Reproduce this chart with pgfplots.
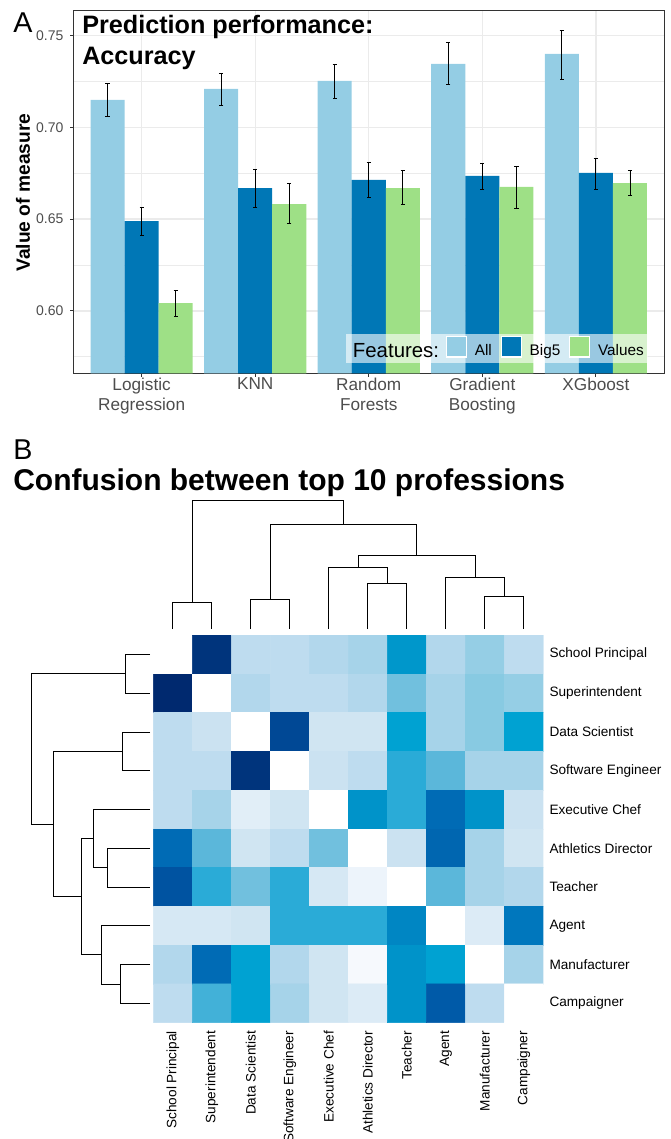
\documentclass[border=0pt]{standalone}
\usepackage{fontspec}
\setmainfont{Liberation Sans}
\setsansfont{Liberation Sans}
\usepackage{pgfplots}
\usepackage{pgfplotstable}
\pgfplotsset{compat=1.18}

\definecolor{cAll}{HTML}{94CDE4}
\definecolor{cBig}{HTML}{0077B6}
\definecolor{cVal}{HTML}{9EE086}
\definecolor{gray20}{HTML}{333333}
\definecolor{gray30}{HTML}{4D4D4D}
\definecolor{grid92}{HTML}{EBEBEB}

% accuracy: mean, upper and lower error
\pgfplotstableread{
x y ep em
1 0.7149 0.0091 0.0089
2 0.7209 0.0082 0.0089
3 0.7253 0.0092 0.0097
4 0.7345 0.0117 0.0114
5 0.7400 0.0129 0.0138
}\tabAll
\pgfplotstableread{
x y ep em
1 0.6489 0.0076 0.0078
2 0.6669 0.0104 0.0107
3 0.6713 0.0094 0.0093
4 0.6735 0.0069 0.0073
5 0.6751 0.0082 0.0087
}\tabBig
\pgfplotstableread{
x y ep em
1 0.6042 0.0067 0.0071
2 0.6582 0.0111 0.0107
3 0.6669 0.0095 0.0091
4 0.6675 0.0112 0.0115
5 0.6696 0.0069 0.0069
}\tabVal

\pgfplotsset{
  ebar/.style={
    error bars/y dir=both, error bars/y explicit,
    error bars/error bar style={draw=black, line width=0.6pt},
    error bars/error mark options={draw=black, rotate=90, mark size=1.6pt, line width=0.6pt}},
  dend/.style={black, line width=0.6pt, mark=none},
  keybox/.style={legend image code/.code={\draw[fill=#1, draw=white, line width=0.8pt,
    fill opacity=1, draw opacity=1] (0pt,-4.5pt) rectangle (15pt,11pt);}},
}

\begin{document}
\begin{tikzpicture}
% ---------- panel A ----------
\begin{axis}[
  at={(276.56pt,-143.93pt)}, anchor=center,
  scale only axis, width=442.875pt, height=272.1pt,
  xmin=0.4, xmax=5.6, ymin=0.566, ymax=0.7636,
  ybar=0pt, bar width=0.3,
  xtick={1,2,3,4,5},
  xticklabels={Logistic\\Regression,KNN,Random\\Forests,Gradient\\Boosting,XGboost},
  ytick={0.60,0.65,0.70,0.75},
  minor ytick={0.575,0.625,0.675,0.725},
  yticklabel style={/pgf/number format/fixed, /pgf/number format/fixed zerofill,
    /pgf/number format/precision=2, /pgf/number format/assume math mode=true,
    font=\fontsize{10.5}{12}\selectfont, text=gray30, xshift=-1.5pt},
  xticklabel style={align=center, font=\fontsize{12.9}{15}\selectfont, text=gray30, yshift=2.5pt},
  ylabel={Value of measure},
  every axis y label/.style={at={(axis description cs:-0.0855,0.498)}, rotate=90, anchor=center,
    font=\fontsize{14.4}{16}\selectfont\bfseries},
  tick align=outside, tick pos=left, major tick length=2.5pt, minor tick length=0pt,
  tick style={gray20, line width=0.6pt},
  axis line style={gray20, line width=0.6pt},
  xmajorgrids, ymajorgrids, yminorgrids,
  major grid style={grid92, line width=1pt},
  minor grid style={grid92, line width=0.5pt},
  legend style={at={(0.973,0.0276)}, anchor=south east, fill=white, fill opacity=0.6,
    text opacity=1, draw=none, inner sep=1pt, font=\fontsize{11.5}{13}\selectfont,
    /tikz/every odd column/.append style={column sep=4pt},
    /tikz/every even column/.append style={column sep=4.5pt},
    /tikz/column 1/.style={column sep=0pt}},
  legend columns=-1,
]
\addlegendimage{legend image code/.code={}}
\addlegendentry[font=\fontsize{15.3}{17}\selectfont, inner xsep=0.5pt]{Features:}
\addplot[fill=cAll, draw=none, ebar, keybox=cAll]
  table[x=x, y=y, y error plus=ep, y error minus=em] {\tabAll};
\addlegendentry{All}
\addplot[fill=cBig, draw=none, ebar, keybox=cBig]
  table[x=x, y=y, y error plus=ep, y error minus=em] {\tabBig};
\addlegendentry{Big5}
\addplot[fill=cVal, draw=none, ebar, keybox=cVal]
  table[x=x, y=y, y error plus=ep, y error minus=em] {\tabVal};
\addlegendentry{Values}
\end{axis}

% ---------- panel B heatmap ----------
\begin{axis}[
  at={(261.2pt,-621.64pt)}, anchor=center,
  scale only axis, width=292.5pt, height=290.8pt,
  xmin=-0.5, xmax=9.5, ymin=-0.5, ymax=9.5, y dir=reverse,
  axis line style={draw=none}, major tick length=0pt, tick style={draw=none},
  xtick={0,...,9}, ytick={0,...,9},
  xticklabels={School Principal,Superintendent,Data Scientist,Software Engineer,Executive Chef,Athletics Director,Teacher,Agent,Manufacturer,Campaigner},
  yticklabels={School Principal,Superintendent,Data Scientist,Software Engineer,Executive Chef,Athletics Director,Teacher,Agent,Manufacturer,Campaigner},
  yticklabel pos=right,
  xticklabel style={rotate=90, anchor=east, inner sep=0pt, font=\fontsize{10.2}{12}\selectfont},
  yticklabel style={anchor=west, inner sep=0pt, xshift=4.5pt, font=\fontsize{10.2}{12}\selectfont},
  xticklabel shift=6pt,
  colormap={hm}{rgb255=(255,255,255) rgb255=(237,244,251) rgb255=(208,229,242)
    rgb255=(190,220,239) rgb255=(166,211,233) rgb255=(136,202,226) rgb255=(91,183,218)
    rgb255=(42,171,215) rgb255=(0,162,210) rgb255=(0,141,197) rgb255=(0,119,189)
    rgb255=(0,90,168) rgb255=(0,68,144) rgb255=(0,41,111)},
  point meta min=0, point meta max=13,
]
\addplot[matrix plot*, point meta=explicit, mesh/cols=10] table[meta=c] {
x y c
0 0 0
1 0 12.6
2 0 3
3 0 3
4 0 3.5
5 0 4
6 0 8.5
7 0 3.5
8 0 4.55
9 0 3
0 1 13
1 1 0
2 1 3.5
3 1 3
4 1 3
5 1 3.5
6 1 5.5
7 1 4
8 1 5
9 1 4.55
0 2 3
1 2 2.3
2 2 0
3 2 11.8
4 2 2
5 2 2
6 2 8
7 2 4
8 2 5
9 2 8
0 3 3
1 3 3
2 3 12.6
3 3 0
4 3 2.3
5 3 3
6 3 7
7 3 6
8 3 4
9 3 4
0 4 3
1 4 4
2 4 1.4
3 4 2
4 4 0
5 4 8.7
6 4 7
7 4 10.4
8 4 8.7
9 4 2.3
0 5 10.4
1 5 6
2 5 2
3 5 3
4 5 5.5
5 5 0
6 5 2.3
7 5 10.6
8 5 4
9 5 2
0 6 11.3
1 6 7
2 6 5.5
3 6 7
4 6 1.8
5 6 1
6 6 0
7 6 6
8 6 4
9 6 3.5
0 7 1.8
1 7 1.8
2 7 2
3 7 7
4 7 7
5 7 7
6 7 9.3
7 7 0
8 7 1.6
9 7 10
0 8 3.5
1 8 10.4
2 8 8
3 8 3.5
4 8 2
5 8 0.5
6 8 8.7
7 8 8
8 8 0
9 8 4
0 9 3
1 9 6.5
2 9 8
3 9 4
4 9 2
5 9 1.6
6 9 8.7
7 9 11
8 9 3
9 9 0
};
\end{axis}

% ---------- overlay: dendrograms and titles (pixel frame) ----------
\begin{axis}[
  at={(251.625pt,-427.125pt)}, anchor=center,
  scale only axis, width=503.25pt, height=854.25pt,
  xmin=0, xmax=671, ymin=0, ymax=1139, y dir=reverse,
  hide axis, clip=false,
]
% column dendrogram
\addplot[dend] coordinates {(172.8,629) (172.8,602.7) (211.8,602.7) (211.8,629)};
\addplot[dend] coordinates {(250.8,629) (250.8,599.3) (289.8,599.3) (289.8,629)};
\addplot[dend] coordinates {(367.8,629) (367.8,583.7) (406.8,583.7) (406.8,629)};
\addplot[dend] coordinates {(328.8,629) (328.8,567.7) (387.3,567.7) (387.3,583.7)};
\addplot[dend] coordinates {(484.8,629) (484.8,596.7) (523.8,596.7) (523.8,629)};
\addplot[dend] coordinates {(445.8,629) (445.8,577.3) (504.3,577.3) (504.3,596.7)};
\addplot[dend] coordinates {(358.05,567.7) (358.05,555.3) (475.05,555.3) (475.05,577.3)};
\addplot[dend] coordinates {(270.3,599.3) (270.3,524) (416.55,524) (416.55,555.3)};
\addplot[dend] coordinates {(192.3,602.7) (192.3,500) (343.4,500) (343.4,524)};
% row dendrogram
\addplot[dend] coordinates {(150,654.4) (125,654.4) (125,693.2) (150,693.2)};
\addplot[dend] coordinates {(150,731.9) (122.7,731.9) (122.7,770.7) (150,770.7)};
\addplot[dend] coordinates {(150,848.2) (107.3,848.2) (107.3,887) (150,887)};
\addplot[dend] coordinates {(150,809.5) (93.3,809.5) (93.3,867.6) (107.3,867.6)};
\addplot[dend] coordinates {(150,964.5) (120,964.5) (120,1003.3) (150,1003.3)};
\addplot[dend] coordinates {(150,925.8) (101.7,925.8) (101.7,983.9) (120,983.9)};
\addplot[dend] coordinates {(93.3,838.55) (81.7,838.55) (81.7,954.85) (101.7,954.85)};
\addplot[dend] coordinates {(122.7,751.3) (53.3,751.3) (53.3,896.7) (81.7,896.7)};
\addplot[dend] coordinates {(125,673.8) (31,673.8) (31,824) (53.3,824)};
% labels and titles
\node[anchor=base west, inner sep=0pt, font=\fontsize{21.5}{24}\selectfont] at (axis cs:13,32.3) {A};
\node[anchor=base west, inner sep=0pt, font=\fontsize{18.9}{20}\selectfont\bfseries] at (axis cs:82,33.6) {Prediction performance:};
\node[anchor=base west, inner sep=0pt, font=\fontsize{18.9}{20}\selectfont\bfseries] at (axis cs:82,64.8) {Accuracy};
\node[anchor=base west, inner sep=0pt, font=\fontsize{21.5}{24}\selectfont] at (axis cs:13,459.3) {B};
\node[anchor=base west, inner sep=0pt, font=\fontsize{22.5}{26}\selectfont\bfseries] at (axis cs:13,490) {Confusion between top 10 professions};
\end{axis}

\pgfresetboundingbox
\path[use as bounding box] (0pt,0pt) rectangle (503.25pt,-854.25pt);
\end{tikzpicture}
\end{document}
